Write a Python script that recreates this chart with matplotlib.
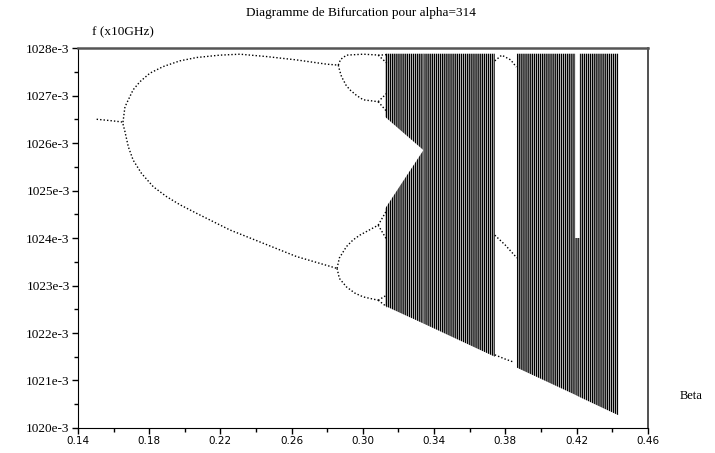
import matplotlib
matplotlib.use("Agg")
import matplotlib.pyplot as plt
import numpy as np
from matplotlib.ticker import FuncFormatter, MultipleLocator, FixedLocator

# values (f in units of 1e-3 x10GHz)
p1_beta = [0.1505, 0.156, 0.161, 0.1653]
p1_f = [1026.50, 1026.48, 1026.46, 1026.44]

p2u_beta = [0.1653, 0.1664, 0.1683, 0.171, 0.1748, 0.1804, 0.1879, 0.1973, 0.2066, 0.2197,
            0.231, 0.2459, 0.2627, 0.2796, 0.2862]
p2u_f = [1026.44, 1026.76, 1026.91, 1027.12, 1027.29, 1027.47, 1027.61, 1027.73, 1027.80, 1027.85,
         1027.87, 1027.82, 1027.75, 1027.66, 1027.64]
p2l_beta = [0.1653, 0.1664, 0.1683, 0.171, 0.1757, 0.1823, 0.1898, 0.1973, 0.2066, 0.2253,
            0.244, 0.2627, 0.2855]
p2l_f = [1026.40, 1026.24, 1025.92, 1025.64, 1025.36, 1025.08, 1024.87, 1024.70, 1024.52, 1024.17,
         1023.89, 1023.61, 1023.36]

p4a_beta = [0.2862, 0.2875, 0.2908, 0.3002, 0.3096, 0.3133]
p4a_f = [1027.64, 1027.76, 1027.85, 1027.87, 1027.85, 1027.86]
p4b_beta = [0.2862, 0.2870, 0.288, 0.2905, 0.2927, 0.2965, 0.3002, 0.3086]
p4b_f = [1027.64, 1027.52, 1027.40, 1027.22, 1027.12, 1027.00, 1026.91, 1026.87]
p4c_beta = [0.2855, 0.2868, 0.2908, 0.2945, 0.2983, 0.3086]
p4c_f = [1023.36, 1023.58, 1023.82, 1023.96, 1024.06, 1024.27]
p4d_beta = [0.2855, 0.2868, 0.2908, 0.2955, 0.3002, 0.3086]
p4d_f = [1023.36, 1023.15, 1022.97, 1022.84, 1022.76, 1022.69]

p8_beta = [0.3086, 0.3135]
p8_f = [[1026.87, 1027.05], [1026.87, 1026.66], [1024.27, 1024.59], [1024.27, 1023.96],
        [1022.69, 1022.80], [1022.69, 1022.55], [1027.85, 1027.68]]

p3_top_beta = [0.3741, 0.3780, 0.3830, 0.3862]
p3_top_f = [1027.73, 1027.85, 1027.75, 1027.60]
p3_mid_beta = [0.3741, 0.3800, 0.3865]
p3_mid_f = [1024.06, 1023.85, 1023.58]
p3_low_beta = [0.3741, 0.3800, 0.3845]
p3_low_f = [1021.54, 1021.45, 1021.39]

# chaotic bands: beta, lower edge, upper edge
chaos_bands = [
    ([0.3125, 0.334], [1026.55, 1025.85], [1027.88, 1027.88]),
    ([0.3125, 0.334], [1022.57, 1022.20], [1024.62, 1025.85]),
    ([0.334, 0.3741], [1022.20, 1021.50], [1027.88, 1027.88]),
    ([0.3865, 0.4192], [1021.27, 1020.70], [1027.88, 1027.88]),
    ([0.4192, 0.4218], [1020.70, 1020.65], [1024.00, 1024.00]),
    ([0.4218, 0.4434], [1020.65, 1020.27], [1027.88, 1027.88]),
]

x_major = [0.14, 0.18, 0.22, 0.26, 0.30, 0.34, 0.38, 0.42, 0.46]
x_minor = [0.16, 0.20, 0.24, 0.28, 0.32, 0.36, 0.40, 0.44]

plt.rcParams["hatch.linewidth"] = 1.0

fig = plt.figure(figsize=(7.15, 4.53), dpi=100)
ax = fig.add_axes([0.109, 0.0552, 0.797, 0.8388])


def branch(b, f):
    ax.plot(b, np.array(f) * 1e-3, color="k", linestyle=(0, (1, 1.5)), linewidth=1.0)


branch(p1_beta, p1_f)
branch(p2u_beta, p2u_f)
branch(p2l_beta, p2l_f)
branch(p4a_beta, p4a_f)
branch(p4b_beta, p4b_f)
branch(p4c_beta, p4c_f)
branch(p4d_beta, p4d_f)
for f in p8_f:
    branch(p8_beta, f)
branch(p3_top_beta, p3_top_f)
branch(p3_mid_beta, p3_mid_f)
branch(p3_low_beta, p3_low_f)

for b, lo, hi in chaos_bands:
    ax.fill_between(b, np.array(lo) * 1e-3, np.array(hi) * 1e-3,
                    facecolor="white", edgecolor="black", hatch="|" * 8, linewidth=0)

ax.set_xlim(0.14, 0.46)
ax.set_ylim(1.020, 1.028)
ax.xaxis.set_major_locator(FixedLocator(x_major))
ax.xaxis.set_minor_locator(FixedLocator(x_minor))
ax.yaxis.set_major_locator(MultipleLocator(0.001))
ax.yaxis.set_minor_locator(MultipleLocator(0.0005))
ax.xaxis.set_major_formatter(FuncFormatter(lambda v, p: f"{v:.2f}"))
ax.yaxis.set_major_formatter(FuncFormatter(lambda v, p: f"{int(round(v * 1000))}e-3"))

ax.tick_params(axis="both", which="major", direction="out", length=4, width=1, colors="k")
ax.tick_params(axis="both", which="minor", direction="out", length=3, width=1, colors="k")
ax.tick_params(axis="x", which="major", pad=2)
ax.tick_params(axis="y", which="major", pad=2)
for lab in ax.get_xticklabels():
    lab.set_fontfamily("DejaVu Sans")
    lab.set_fontsize(7.5)
for lab in ax.get_yticklabels():
    lab.set_fontfamily("Liberation Serif")
    lab.set_fontsize(9.5)

ax.spines["left"].set_color("k")
ax.spines["bottom"].set_color("k")
ax.spines["top"].set_color("#555555")
ax.spines["top"].set_linewidth(1.8)
ax.spines["right"].set_color("#333333")
ax.spines["right"].set_linewidth(1.2)

fig.text(0.505, 0.972, "Diagramme de Bifurcation pour alpha=314", ha="center", va="center",
         fontsize=9.5, family="Liberation Serif")
fig.text(0.129, 0.929, "f (x10GHz)", ha="left", va="center", fontsize=9.5, family="Liberation Serif")
fig.text(0.951, 0.126, "Beta", ha="left", va="center", fontsize=9, family="Liberation Serif")

fig.savefig("out.png", dpi=100)
